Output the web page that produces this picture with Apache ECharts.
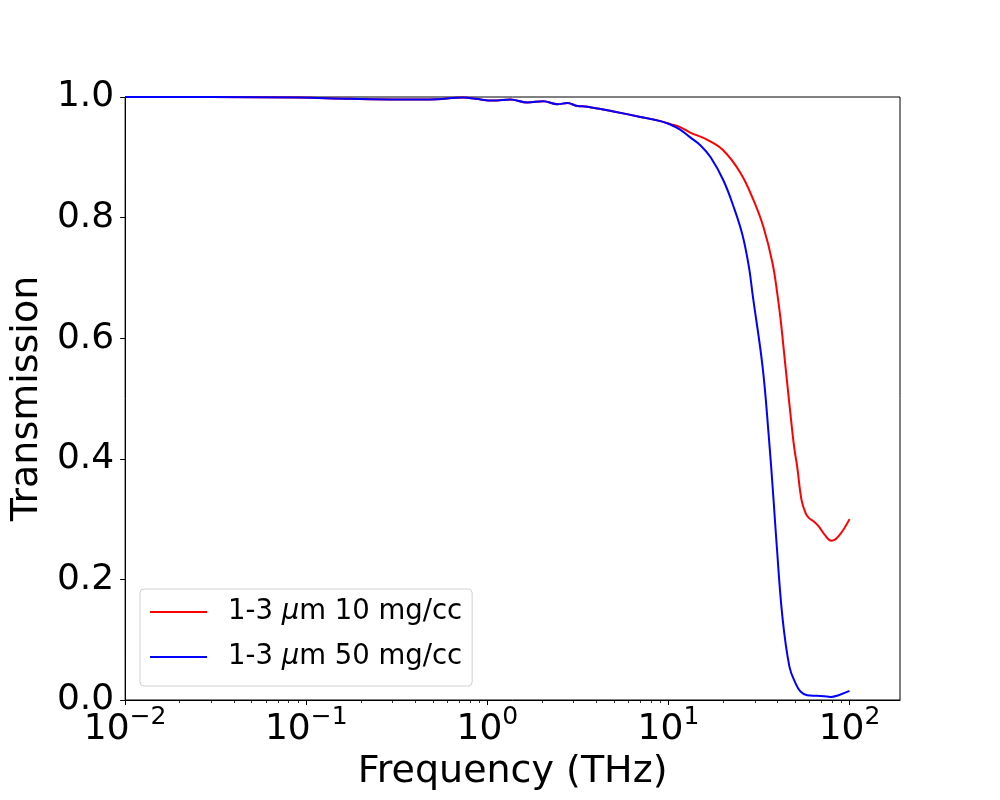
<!DOCTYPE html>
<html>
<head>
<meta charset="utf-8">
<script src="https://cdn.jsdelivr.net/npm/echarts@6/dist/echarts.min.js"></script>
<style>html,body{margin:0;padding:0;background:#fff}#c{width:1000px;height:800px}</style>
</head>
<body>
<div id="c"></div>
<script>
// Frequency (THz) and transmission values
const freqRed = [0.01, 0.03, 0.09, 0.175, 0.33, 0.48, 0.74, 0.86, 1.08, 1.34, 1.66, 2.04, 2.44, 2.77, 3.14, 3.57, 4.97, 7.0, 9.03, 10.3, 11.6, 13.2, 16.4, 20.0, 25.0, 29.5, 33.5, 37.6, 40.0, 41.6, 44.3, 48.4, 49.7, 51.4, 54.3, 57.2, 59.6, 63.5, 67.6, 72.1, 79.6, 87.3, 100];
const transRed = [1.0, 1.0, 0.999, 0.997, 0.996, 0.996, 0.999, 0.997, 0.994, 0.996, 0.991, 0.993, 0.988, 0.990, 0.985, 0.984, 0.976, 0.967, 0.960, 0.955, 0.950, 0.941, 0.929, 0.912, 0.874, 0.829, 0.784, 0.724, 0.672, 0.632, 0.553, 0.443, 0.415, 0.387, 0.332, 0.310, 0.302, 0.296, 0.288, 0.276, 0.264, 0.272, 0.300];

const freqBlue = [0.01, 0.03, 0.09, 0.175, 0.33, 0.48, 0.74, 0.86, 1.08, 1.34, 1.66, 2.04, 2.44, 2.77, 3.14, 3.57, 4.97, 7.0, 9.03, 10.3, 11.6, 13.2, 15.0, 17.1, 20.1, 22.9, 25.6, 27.8, 29.3, 33.1, 35.7, 38.0, 39.5, 42.6, 46.6, 50.3, 53.6, 58.3, 66.0, 75.0, 79.0, 87.0, 100];
const transBlue = [1.0, 1.0, 0.999, 0.997, 0.996, 0.996, 0.999, 0.997, 0.994, 0.996, 0.991, 0.993, 0.988, 0.990, 0.985, 0.984, 0.976, 0.967, 0.960, 0.954, 0.946, 0.933, 0.920, 0.900, 0.862, 0.818, 0.772, 0.719, 0.668, 0.553, 0.443, 0.335, 0.262, 0.138, 0.055, 0.028, 0.014, 0.008, 0.007, 0.006, 0.005, 0.008, 0.015];

const seriesNames = ['1-3 μm 10 mg/cc', '1-3 μm 50 mg/cc'];
const majorTicksX = [0.01, 0.1, 1, 10, 100];
const minorTicksX = [0.02,0.03,0.04,0.05,0.06,0.07,0.08,0.09, 0.2,0.3,0.4,0.5,0.6,0.7,0.8,0.9, 2,3,4,5,6,7,8,9, 20,30,40,50,60,70,80,90];

const FONT = 'DejaVu Sans';
const pair = (xs, ys) => xs.map((x, i) => [x, ys[i]]);

const chart = echarts.init(document.getElementById('c'), null, {renderer: 'canvas'});
chart.setOption({
  animation: false,
  backgroundColor: '#fff',
  grid: {left: 125, right: 100, top: 97, bottom: 100, show: true, borderColor: '#000', borderWidth: 1, backgroundColor: 'transparent'},
  xAxis: [{
    type: 'log', logBase: 10, min: 0.01, max: 190,
    name: 'Frequency (THz)', nameLocation: 'middle', nameGap: 52,
    nameTextStyle: {fontFamily: FONT, fontSize: 38, color: '#000'},
    axisLine: {show: true, lineStyle: {color: '#000', width: 1}},
    axisTick: {show: true, inside: false, length: 5, lineStyle: {color: '#000', width: 1}, customValues: majorTicksX},
    axisLabel: {
      customValues: majorTicksX, margin: 5, color: '#000',
      formatter: v => {
        const e = Math.round(Math.log10(v));
        return '{b|10}{s|' + (e < 0 ? '\u2212' : '') + Math.abs(e) + '}';
      },
      rich: {
        b: {fontFamily: FONT, fontSize: 36, lineHeight: 50, color: '#000'},
        s: {fontFamily: FONT, fontSize: 25, lineHeight: 24, verticalAlign: 'top', color: '#000'}
      }
    },
    splitLine: {show: false}
  }, {
    type: 'log', logBase: 10, min: 0.01, max: 190, position: 'bottom',
    axisLine: {show: false},
    axisTick: {show: true, inside: false, length: 3, lineStyle: {color: '#000', width: 0.8}, customValues: minorTicksX},
    axisLabel: {show: false},
    splitLine: {show: false}
  }],
  yAxis: {
    type: 'value', min: 0, max: 1, interval: 0.2,
    name: 'Transmission', nameLocation: 'middle', nameGap: 78,
    nameTextStyle: {fontFamily: FONT, fontSize: 38, color: '#000'},
    axisLine: {show: true, lineStyle: {color: '#000', width: 1}},
    axisTick: {show: true, inside: false, length: 5, lineStyle: {color: '#000', width: 1}},
    axisLabel: {fontFamily: FONT, fontSize: 36, color: '#000', margin: 11, formatter: v => v.toFixed(1)},
    splitLine: {show: false}
  },
  legend: {
    left: 140, top: 589, orient: 'vertical',
    data: seriesNames, selectedMode: false,
    icon: 'rect', itemWidth: 57, itemHeight: 2, itemGap: 13,
    padding: [7, 10, 13, 10],
    backgroundColor: '#fff', borderColor: '#d0d0d0', borderWidth: 1, borderRadius: 4,
    formatter: n => n.replace('μ', '{i|μ}'),
    textStyle: {
      fontFamily: FONT, fontSize: 27.5, color: '#000', lineHeight: 32, padding: [0, 0, 0, 16],
      rich: {i: {fontFamily: FONT, fontSize: 27.5, fontStyle: 'italic', color: '#000'}}
    }
  },
  series: [{
    name: seriesNames[0], type: 'line', xAxisIndex: 0, data: pair(freqRed, transRed),
    showSymbol: false, smooth: 0.4, lineStyle: {color: '#ff0000', width: 2}, itemStyle: {color: '#ff0000'}
  }, {
    name: seriesNames[1], type: 'line', xAxisIndex: 0, data: pair(freqBlue, transBlue),
    showSymbol: false, smooth: 0.4, lineStyle: {color: '#0000ff', width: 2}, itemStyle: {color: '#0000ff'}
  }]
});
</script>
</body>
</html>
